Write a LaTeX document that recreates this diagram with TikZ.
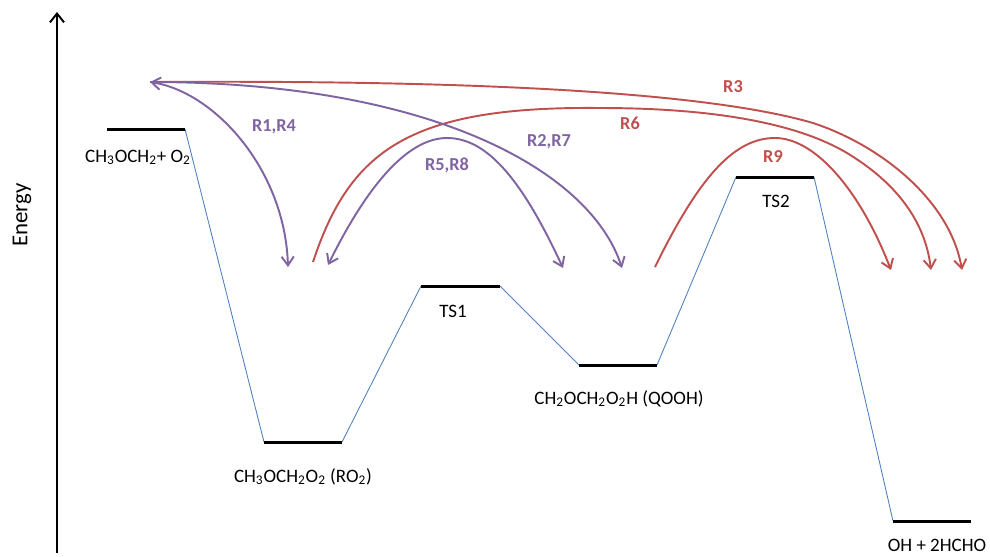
\documentclass[tikz,border=0pt]{standalone}
\usepackage{fontspec}
\setmainfont{Carlito}
\usetikzlibrary{positioning, arrows.meta}
\definecolor{rxnpurple}{HTML}{8064A2}
\definecolor{rxnred}{HTML}{C0504D}
\definecolor{pathblue}{HTML}{4F81BD}

\begin{document}
\begin{tikzpicture}[x=0.02cm,y=-0.02cm,
		level/.style={line width=1.7pt},
		link/.style={pathblue,line width=0.5pt},
		axis/.style={line width=1.1pt,-{Straight Barb[length=5pt,width=8pt]}},
		lbl/.style={font=\fontsize{10.8}{13}\selectfont,anchor=base,inner sep=0pt},
		rlbl/.style={font=\fontsize{10.4}{12}\selectfont\bfseries,anchor=base,inner sep=0pt},
		rxn/.style={line width=1.1pt,-{Straight Barb[length=5pt,width=7pt]}},
		rxnboth/.style={line width=1.1pt,{Straight Barb[length=5pt,width=7pt]}-{Straight Barb[length=5pt,width=7pt]}}]
	\useasboundingbox (0,0) rectangle (990,556);
	% energy axis
	\coordinate (ax-lo) at (57,553);
	\coordinate (ax-hi) at (57,12);
	\draw[axis] (ax-lo) -- (ax-hi);
	\node[rotate=90,font=\fontsize{13}{15}\selectfont] (energy) at (22,215) {Energy};
	% levels
	\coordinate (rct-l) at (107,129);  \coordinate (rct-r) at (185,129);
	\coordinate (ro2-l) at (264,442);  \coordinate (ro2-r) at (342,442);
	\coordinate (ts1-l) at (421,286);  \coordinate (ts1-r) at (500,286);
	\coordinate (qooh-l) at (579,365); \coordinate (qooh-r) at (657,365);
	\coordinate (ts2-l) at (736,177);  \coordinate (ts2-r) at (814,177);
	\coordinate (prod-l) at (893,521); \coordinate (prod-r) at (971,521);
	\foreach \a/\b in {rct/ro2,ro2/ts1,ts1/qooh,qooh/ts2,ts2/prod}
		\draw[link] (\a-r) -- (\b-l);
	\foreach \s in {rct,ro2,ts1,qooh,ts2,prod}
		\draw[level] (\s-l) -- (\s-r);
	\node[lbl] (rct-txt) at (138,162) {CH\textsubscript{3}OCH\textsubscript{2}+ O\textsubscript{2}};
	\node[lbl] (ro2-txt) at (303,482) {CH\textsubscript{3}OCH\textsubscript{2}O\textsubscript{2} (RO\textsubscript{2})};
	\node[lbl] (ts1-txt) at (453,317) {TS1};
	\node[lbl] (qooh-txt) at (619,404) {CH\textsubscript{2}OCH\textsubscript{2}O\textsubscript{2}H (QOOH)};
	\node[lbl] (ts2-txt) at (776,207) {TS2};
	\node[lbl] (prod-txt) at (937,551) {OH + 2HCHO};
	% reaction arrows
	\coordinate (hub) at (150,82);
	\coordinate (r14-end) at (288,267);
	\coordinate (r27-end) at (622,268);
	\coordinate (r3-end) at (962,270);
	\coordinate (r6-beg) at (313,262);
	\coordinate (r6-end) at (931,270);
	\coordinate (r58-l) at (328,265);
	\coordinate (r58-r) at (563,268);
	\coordinate (r9-beg) at (655,267);
	\coordinate (r9-end) at (891,270);
	\draw[rxn,rxnred] (hub) .. controls (450,80) and (700,90) .. (813,123)
		.. controls (880,145) and (950,200) .. (r3-end);
	\draw[rxn,rxnred] (r6-beg) .. controls (350,150) and (410,106) .. (600,108)
		.. controls (720,108) and (800,125) .. (847,153)
		.. controls (895,182) and (925,220) .. (r6-end);
	\draw[rxn,rxnred] (r9-beg) .. controls (700,175) and (735,138) .. (775,138)
		.. controls (815,138) and (860,190) .. (r9-end);
	\draw[rxnboth,rxnpurple] (hub) .. controls (215,92) and (285,170) .. (r14-end);
	\draw[rxn,rxnpurple] (hub) .. controls (430,82) and (590,170) .. (r27-end);
	\draw[rxnboth,rxnpurple] (r58-l) .. controls (370,180) and (410,138) .. (447,138)
		.. controls (485,138) and (520,175) .. (r58-r);
	\node[rlbl,rxnpurple] (r14-txt) at (274,131) {R1,R4};
	\node[rlbl,rxnpurple] (r27-txt) at (549,146) {R2,R7};
	\node[rlbl,rxnpurple] (r58-txt) at (447,170) {R5,R8};
	\node[rlbl,rxnred] (r6-txt) at (630,129) {R6};
	\node[rlbl,rxnred] (r3-txt) at (733,92) {R3};
	\node[rlbl,rxnred] (r9-txt) at (773,162) {R9};
\end{tikzpicture}
\end{document}
